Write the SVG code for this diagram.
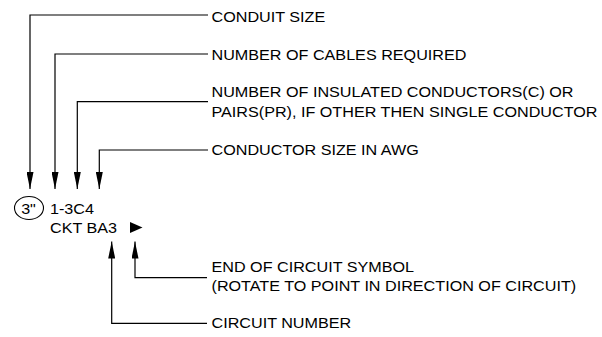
<svg xmlns="http://www.w3.org/2000/svg" width="602" height="337" viewBox="0 0 602 337">
<style>
  .lbl { font-family: "Liberation Sans", Arial, sans-serif; font-size: 14px; fill: #000; }
  .ldr { fill: none; stroke: #000; stroke-width: 1.2; }
</style>
<defs>
  <marker id="arr" markerUnits="userSpaceOnUse" viewBox="0 0 17 7" refX="17" refY="3.5" markerWidth="17" markerHeight="7" orient="auto">
    <path d="M0,0 L17,3.5 L0,7 Z" fill="#000"/>
  </marker>
</defs>
<rect width="602" height="337" fill="#fff"/>
<g id="connectors">
  <path class="ldr" d="M208,15 H30 V189" marker-end="url(#arr)"/>
  <path class="ldr" d="M208,54 H55 V189" marker-end="url(#arr)"/>
  <path class="ldr" d="M208,101.7 H77.3 V189" marker-end="url(#arr)"/>
  <path class="ldr" d="M208,150 H99.3 V189" marker-end="url(#arr)"/>
  <path class="ldr" d="M207,277.7 H135 V241.5" marker-end="url(#arr)"/>
  <path class="ldr" d="M207,323.3 H111.7 V241.5" marker-end="url(#arr)"/>
</g>
<g id="symbol">
  <ellipse cx="29" cy="208" rx="14.5" ry="11.5" fill="none" stroke="#000" stroke-width="1.1"/>
  <text class="lbl" text-anchor="middle" transform="translate(28.5,213.5) scale(1.155,1)">3"</text>
  <text class="lbl" transform="translate(50,213.5) scale(1.155,1)">1-3C4</text>
  <text class="lbl" transform="translate(50,232.5) scale(1.155,1)">CKT BA3</text>
  <polygon points="130,222 142.5,227.5 130,233" fill="#000"/>
</g>
<g id="label-conduit-size">
  <text class="lbl" transform="translate(211.5,22) scale(1.155,1)">CONDUIT SIZE</text>
</g>
<g id="label-number-of-cables">
  <text class="lbl" transform="translate(211.5,59.7) scale(1.155,1)">NUMBER OF CABLES REQUIRED</text>
</g>
<g id="label-insulated-conductors">
  <text class="lbl" transform="translate(211.5,96.7) scale(1.155,1)">NUMBER OF INSULATED CONDUCTORS(C) OR</text>
  <text class="lbl" transform="translate(211.5,116.7) scale(1.155,1)">PAIRS(PR), IF OTHER THEN SINGLE CONDUCTOR</text>
</g>
<g id="label-conductor-size">
  <text class="lbl" transform="translate(211.5,154.5) scale(1.155,1)">CONDUCTOR SIZE IN AWG</text>
</g>
<g id="label-end-of-circuit">
  <text class="lbl" transform="translate(211.5,271.5) scale(1.155,1)">END OF CIRCUIT SYMBOL</text>
  <text class="lbl" transform="translate(211.5,291) scale(1.155,1)">(ROTATE TO POINT IN DIRECTION OF CIRCUIT)</text>
</g>
<g id="label-circuit-number">
  <text class="lbl" transform="translate(211.5,328.3) scale(1.155,1)">CIRCUIT NUMBER</text>
</g>
</svg>
